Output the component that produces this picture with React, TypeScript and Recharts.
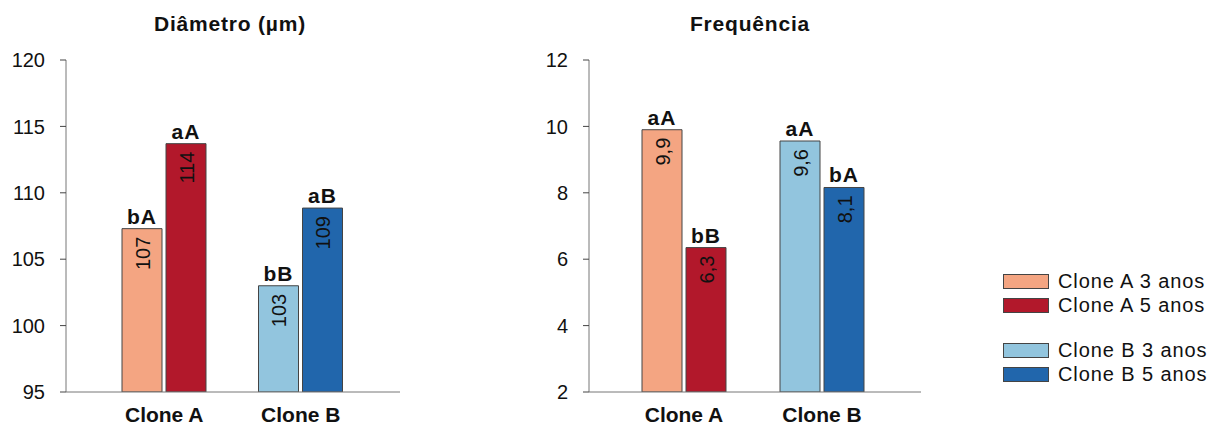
import React from 'react';
import { BarChart, Bar, XAxis, YAxis, Cell, LabelList } from 'recharts';

const categories = ['Clone A', 'Clone B'];

const diamTicks = [95, 100, 105, 110, 115, 120];
const diam3 = [107.3, 103.0];
const diam5 = [113.7, 108.85];
const diamText3 = ['107', '103'];
const diamText5 = ['114', '109'];
const diamLetters3 = ['bA', 'bB'];
const diamLetters5 = ['aA', 'aB'];

const freqTicks = [2, 4, 6, 8, 10, 12];
const freq3 = [9.9, 9.56];
const freq5 = [6.35, 8.16];
const freqText3 = ['9,9', '9,6'];
const freqText5 = ['6,3', '8,1'];
const freqLetters3 = ['aA', 'aA'];
const freqLetters5 = ['bB', 'bA'];

const colors3 = ['#F4A582', '#92C5DE'];
const colors5 = ['#B2182B', '#2166AC'];

const legendLabels = ['Clone A 3 anos', 'Clone A 5 anos', 'Clone B 3 anos', 'Clone B 5 anos'];
const legendColors = ['#F4A582', '#B2182B', '#92C5DE', '#2166AC'];

const FONT = '"Liberation Sans", Arial, Helvetica, sans-serif';

const diamData = categories.map((c, i) => ({
  cat: c, v3: diam3[i], v5: diam5[i], t3: diamText3[i], t5: diamText5[i], l3: diamLetters3[i], l5: diamLetters5[i],
}));
const freqData = categories.map((c, i) => ({
  cat: c, v3: freq3[i], v5: freq5[i], t3: freqText3[i], t5: freqText5[i], l3: freqLetters3[i], l5: freqLetters5[i],
}));

const InnerLabel = (p: any) => {
  const cx = Number(p.x) + Number(p.width) / 2 + 1;
  const ty = Number(p.y) + 8;
  return (
    <text x={cx} y={ty} transform={`rotate(-90 ${cx} ${ty})`} textAnchor="end" dominantBaseline="central"
      fontSize={20} fill="#111" fontFamily={FONT}>{p.value}</text>
  );
};

const TopLabel = (p: any) => {
  const cx = Number(p.x) + Number(p.width) / 2;
  const ty = Number(p.y) - 5;
  return (
    <text x={cx} y={ty} textAnchor="middle" fontSize={21} fontWeight="bold" letterSpacing={1} fill="#111" fontFamily={FONT}>{p.value}</text>
  );
};

const AXIS = '#777';

function Panel(props: { data: any[]; domain: number[]; ticks: number[]; padL: number; padR: number; marginRight: number }) {
  const { data, domain, ticks, padL, padR, marginRight } = props;
  return (
    <BarChart width={420} height={426} data={data} margin={{ top: 60, right: marginRight, left: 0, bottom: 0 }} barGap={4} barSize={40}>
      <XAxis dataKey="cat" xAxisId="b" padding={{ left: padL, right: padR }} tickLine={false} axisLine={{ stroke: AXIS }}
        tick={{ fontSize: 21, fontWeight: 'bold', fill: '#111', fontFamily: FONT }} tickSize={0} tickMargin={15} height={34} interval={0} />
      <XAxis dataKey="cat" xAxisId="t" orientation="top" height={0} tick={false} tickLine={false} axisLine={{ stroke: AXIS }} />
      <YAxis yAxisId="l" domain={domain} ticks={ticks} width={66} tickSize={6} tickMargin={15} interval={0}
        axisLine={{ stroke: AXIS }} tickLine={{ stroke: '#444' }} tick={{ fontSize: 20, fill: '#111', fontFamily: FONT }} allowDataOverflow />
      <YAxis yAxisId="r" orientation="right" width={0} domain={[0, 1]} tick={false} tickLine={false} axisLine={{ stroke: AXIS }} />
      <Bar dataKey="v3" xAxisId="b" yAxisId="l" isAnimationActive={false} stroke="#444" strokeWidth={1}>
        {data.map((d, i) => <Cell key={'a' + i} fill={colors3[i]} />)}
        <LabelList dataKey="t3" content={InnerLabel} />
        <LabelList dataKey="l3" content={TopLabel} />
      </Bar>
      <Bar dataKey="v5" xAxisId="b" yAxisId="l" isAnimationActive={false} stroke="#444" strokeWidth={1}>
        {data.map((d, i) => <Cell key={'b' + i} fill={colors5[i]} />)}
        <LabelList dataKey="t5" content={InnerLabel} />
        <LabelList dataKey="l5" content={TopLabel} />
      </Bar>
    </BarChart>
  );
}

const titleStyle: React.CSSProperties = {
  position: 'absolute', top: 12, fontSize: 21, fontWeight: 'bold', letterSpacing: 0.8, textAlign: 'center', color: '#111', lineHeight: '23px',
};

export default function App() {
  const rowTops = [274, 298, 343, 367];
  return (
    <div style={{ position: 'absolute', left: 0, top: 0, width: 1230, height: 426, background: '#fff', fontFamily: FONT }}>
      <div style={{ position: 'absolute', left: 0, top: 0 }}>
        <Panel data={diamData} domain={[95, 120]} ticks={diamTicks} padL={30} padR={31} marginRight={20} />
      </div>
      <div style={{ position: 'absolute', left: 523, top: 0 }}>
        <Panel data={freqData} domain={[2, 12]} ticks={freqTicks} padL={26} padR={30} marginRight={22} />
      </div>
      <div style={{ ...titleStyle, left: 0, width: 460 }}>Diâmetro (µm)</div>
      <div style={{ ...titleStyle, left: 600, width: 300 }}>Frequência</div>
      {legendLabels.map((lab, i) => (
        <div key={lab} style={{ position: 'absolute', left: 1003, top: rowTops[i], height: 15, display: 'flex', alignItems: 'center' }}>
          <div style={{ width: 46, height: 15, boxSizing: 'border-box', border: '1px solid #444', background: legendColors[i] }} />
          <span style={{ marginLeft: 9, fontSize: 20, letterSpacing: 0.9, color: '#111', whiteSpace: 'nowrap' }}>{lab}</span>
        </div>
      ))}
    </div>
  );
}
